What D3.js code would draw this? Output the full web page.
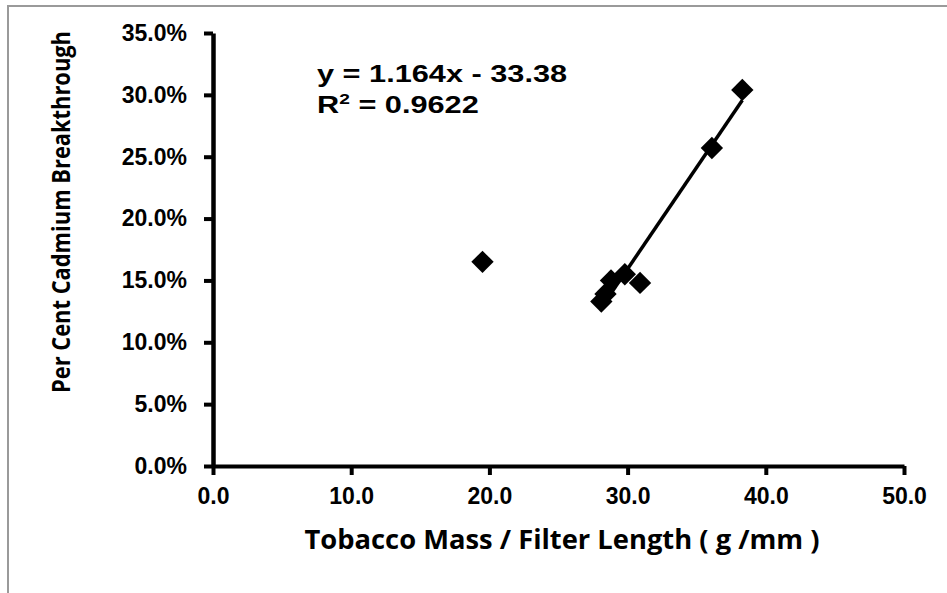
<!DOCTYPE html>
<html>
<head>
<meta charset="utf-8">
<script src="https://cdn.jsdelivr.net/npm/d3@7"></script>
<style>
  body { margin: 0; background: #fff; }
  svg { display: block; }
</style>
</head>
<body>
<svg id="chart" width="947" height="593"></svg>
<script>
  // values
  var massPerLength = [19.5, 28.1, 28.4, 28.8, 29.8, 30.9, 36.1, 38.3];
  var breakthrough = [16.5, 13.3, 13.9, 15.0, 15.5, 14.8, 25.7, 30.4];
  var fitIndex = [1, 2, 3, 4, 5, 6, 7]; // the 19.5 point is left out of the trend line
  var xTicks = [0, 10, 20, 30, 40, 50];
  var yTicks = [0, 5, 10, 15, 20, 25, 30, 35];
  var equation = ["y = 1.164x - 33.38", "R", "2", " = 0.9622"];

  var margin = { top: 33, right: 43, bottom: 127, left: 213 },
      outerWidth = 947,
      outerHeight = 593,
      width = outerWidth - margin.left - margin.right,
      height = outerHeight - margin.top - margin.bottom;

  var x = d3.scaleLinear().domain([0, 50]).range([0, width]);
  var y = d3.scaleLinear().domain([0, 35]).range([height, 0]);

  var svg = d3.select("#chart");

  // grey frame of the pasted picture
  svg.append("path")
      .attr("d", "M8,593V6H947")
      .attr("fill", "none")
      .attr("stroke", "#9a9a9a")
      .attr("stroke-width", 2);

  var g = svg.append("g")
      .attr("transform", `translate(${margin.left},${margin.top})`);

  var tickFont = "'Liberation Sans', Arial, sans-serif";

  g.append("g")
      .attr("transform", `translate(0,${height})`)
      .call(d3.axisBottom(x).tickValues(xTicks).tickFormat(d3.format(".1f")).tickSize(9).tickSizeOuter(0))
      .call(a => a.select(".domain").attr("stroke-width", 4))
      .call(a => a.selectAll(".tick line").attr("stroke-width", 4))
      .call(a => a.selectAll("text")
          .attr("font-family", tickFont)
          .attr("font-weight", "bold")
          .attr("font-size", 23)
          .attr("fill", "#000")
          .attr("y", 22));

  g.append("g")
      .call(d3.axisLeft(y).tickValues(yTicks).tickFormat(d => d3.format(".1f")(d) + "%").tickSize(9).tickSizeOuter(0))
      .call(a => a.select(".domain").attr("stroke-width", 4.5))
      .call(a => a.selectAll(".tick line").attr("stroke-width", 4))
      .call(a => a.selectAll("text")
          .attr("font-family", tickFont)
          .attr("font-weight", "bold")
          .attr("font-size", 23)
          .attr("fill", "#000")
          .attr("x", -26));

  // least squares trend over the fitted points
  var fx = fitIndex.map(i => massPerLength[i]),
      fy = fitIndex.map(i => breakthrough[i]),
      mx = d3.mean(fx), my = d3.mean(fy),
      slope = d3.sum(fx, (v, i) => (v - mx) * (fy[i] - my)) / d3.sum(fx, v => (v - mx) * (v - mx)),
      intercept = my - slope * mx,
      ends = d3.extent(fx);

  g.append("line")
      .attr("x1", x(ends[0])).attr("y1", y(slope * ends[0] + intercept))
      .attr("x2", x(ends[1])).attr("y2", y(slope * ends[1] + intercept))
      .attr("stroke", "#000")
      .attr("stroke-width", 3.5);

  g.append("g")
    .selectAll("path")
    .data(massPerLength.map((v, i) => [v, breakthrough[i]]))
    .join("path")
      .attr("transform", d => `translate(${x(d[0])},${y(d[1])}) rotate(45)`)
      .attr("d", d3.symbol(d3.symbolSquare, 250))
      .attr("fill", "#000");

  var eq = g.append("text")
      .attr("font-family", tickFont)
      .attr("font-weight", "bold")
      .attr("font-size", 24)
      .attr("fill", "#000")
      .attr("transform", `translate(${317 - margin.left},${82 - margin.top}) scale(1.28,1)`);
  eq.append("tspan").attr("x", 0).attr("y", 0).text(equation[0]);
  eq.append("tspan").attr("x", 0).attr("y", 31).text(equation[1]);
  eq.append("tspan").attr("dy", -9).attr("font-size", 15).text(equation[2]);
  eq.append("tspan").attr("dy", 9).text(equation[3]);

  var titleFont = "'Open Sans', 'Noto Sans', sans-serif";

  svg.append("text")
      .attr("transform", "translate(562,549) scale(1,1.13)")
      .attr("text-anchor", "middle")
      .attr("font-family", titleFont)
      .attr("font-weight", "bold")
      .attr("font-size", 23)
      .attr("textLength", 515)
      .attr("lengthAdjust", "spacingAndGlyphs")
      .text("Tobacco Mass / Filter Length ( g /mm )");

  svg.append("text")
      .attr("transform", "translate(70,212) rotate(-90) scale(1,1.15)")
      .attr("text-anchor", "middle")
      .attr("font-family", titleFont)
      .attr("font-weight", "bold")
      .attr("font-size", 21)
      .attr("textLength", 362)
      .attr("lengthAdjust", "spacingAndGlyphs")
      .text("Per Cent Cadmium Breakthrough");
</script>
</body>
</html>
